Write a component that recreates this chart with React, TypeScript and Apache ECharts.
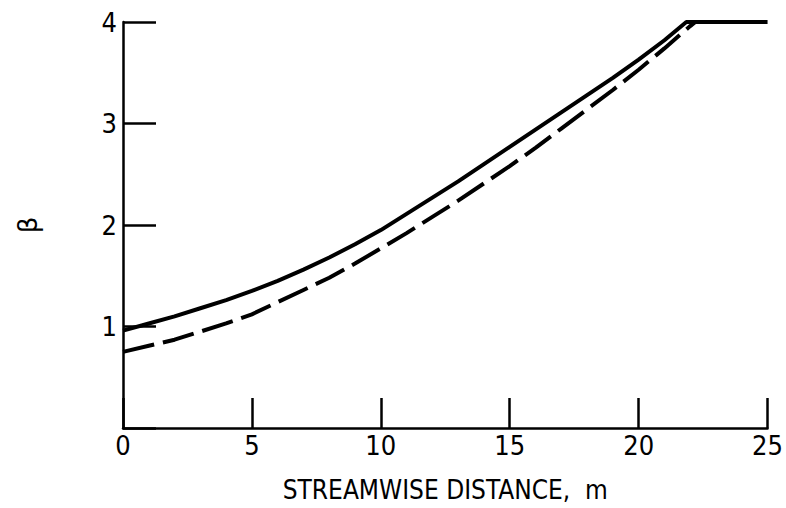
import React, { useEffect, useRef } from "react";
import * as echarts from "echarts";

const xSolid = [0, 1, 2, 3, 4, 5, 6, 7, 8, 9, 10, 11, 12, 13, 14, 15, 16, 17, 18, 19, 20, 21, 21.85, 25];
const ySolid = [0.96, 1.03, 1.1, 1.18, 1.26, 1.35, 1.45, 1.56, 1.68, 1.81, 1.95, 2.11, 2.27, 2.43, 2.6, 2.77, 2.94, 3.11, 3.28, 3.45, 3.63, 3.82, 4.0, 4.0];
const xDashed = [0, 1, 2, 3, 4, 5, 6, 7, 8, 9, 10, 11, 12, 13, 14, 15, 16, 17, 18, 19, 20, 21, 22, 22.2];
const yDashed = [0.75, 0.81, 0.87, 0.95, 1.03, 1.12, 1.24, 1.36, 1.48, 1.62, 1.77, 1.92, 2.08, 2.24, 2.41, 2.58, 2.76, 2.95, 3.14, 3.33, 3.53, 3.74, 3.96, 4.0];
const xTicks = [0, 5, 10, 15, 20, 25];
const yTicks = [1, 2, 3, 4];
const xName = "STREAMWISE DISTANCE,  m";
const yName = "β";

const FONT = "'DejaVu Sans Condensed', 'Liberation Sans Narrow', Roboto";

export default function App() {
  const ref = useRef<HTMLDivElement>(null);
  useEffect(() => {
    const chart = echarts.init(ref.current!, null, { renderer: "svg" });
    chart.setOption({
      animation: false,
      backgroundColor: "#ffffff",
      grid: { left: 123, top: 22, right: 17, bottom: 76, containLabel: false },
      xAxis: {
        type: "value",
        min: xTicks[0],
        max: xTicks[xTicks.length - 1],
        interval: 5,
        name: xName,
        nameLocation: "middle",
        nameGap: 49,
        nameTextStyle: { fontFamily: FONT, fontSize: 26, color: "#000" },
        axisLine: { show: true, onZero: false, lineStyle: { color: "#000", width: 2.5 } },
        axisTick: { show: true, inside: true, length: 30, lineStyle: { color: "#000", width: 2.5 } },
        axisLabel: { color: "#000", fontFamily: FONT, fontSize: 27, fontWeight: 500, margin: 4 },
        splitLine: { show: false },
      },
      yAxis: {
        type: "value",
        min: 0,
        max: yTicks[yTicks.length - 1],
        interval: 1,
        name: yName,
        nameLocation: "middle",
        nameRotate: 90,
        nameGap: 82,
        nameTextStyle: { fontFamily: "DejaVu Sans", fontSize: 26, color: "#000" },
        axisLine: { show: true, onZero: false, lineStyle: { color: "#000", width: 2.5 } },
        axisTick: { show: true, inside: true, length: 33, lineStyle: { color: "#000", width: 2.5 } },
        axisLabel: {
          color: "#000",
          fontFamily: FONT,
          fontSize: 27,
          fontWeight: 500,
          margin: 6,
          formatter: (v: number) => (yTicks.includes(v) ? String(v) : ""),
        },
        splitLine: { show: false },
      },
      series: [
        {
          type: "line",
          data: xDashed.map((x, i) => [x, yDashed[i]]),
          showSymbol: false,
          symbol: "none",
          smooth: false,
          lineStyle: { color: "#000", width: 4, type: [32, 9], cap: "butt" },
          z: 2,
        },
        {
          type: "line",
          data: xSolid.map((x, i) => [x, ySolid[i]]),
          showSymbol: false,
          symbol: "none",
          smooth: false,
          lineStyle: { color: "#000", width: 4 },
          z: 3,
        },
      ],
    });
    return () => chart.dispose();
  }, []);
  return <div ref={ref} style={{ width: 786, height: 508, position: "absolute", left: 0, top: 0 }} />;
}
